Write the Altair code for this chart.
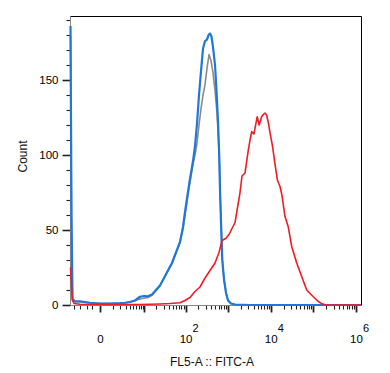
import altair as alt
import pandas as pd

# ---- data (FITC intensity, event count) ----
blue_x = [-3.91, -3.66, -3.41, -2.85, -1.94, -0.72, 0, 0.72, 1.94, 2.85,
          4.05, 5.61, 7.66, 9.75, 12.33, 15.55, 19.53, 24.5, 30.6, 38.2,
          47.7, 59.4, 74.0, 87.2, 97.2, 108.4, 120.9, 134.8, 150.3, 167.5,
          186.7, 208.1, 232.0, 258.6, 288.2, 320.8, 348, 377.7, 409.3, 444,
          494.7, 536.5, 582.5, 624.3, 649, 684.7, 734, 805.9, 897.8, 1000,
          1175, 1459, 3277, 48660, 1300000]
blue_y = [186, 60, 4, 2.5, 2.5, 1.5, 1, 1, 1.2, 1.5,
          2, 3, 5.5, 6, 5.8, 7, 10, 13, 18, 23,
          28, 35, 42, 52, 62, 71, 80, 88, 96, 106,
          121, 140, 156, 171, 176, 177, 180, 181, 179, 172,
          160, 143, 122, 98, 76, 55, 30, 17, 8, 3,
          1, 0.3, 0, 0, 0]

gray_x = [-3.91, -3.66, -3.41, -2.85, -1.94, -0.72, 0, 0.72, 1.94, 2.85,
          4.05, 7.66, 9.75, 12.33, 15.55, 19.53, 24.5, 30.6, 38.2, 47.7,
          59.4, 74.0, 87.2, 97.2, 108.4, 120.9, 134.8, 150.3, 167.5, 186.7,
          208.1, 232.0, 258.6, 288.2, 320.8, 357.7, 398.4, 444, 494.7, 551,
          598, 631.3, 659, 692.3, 734, 805.9, 897.8, 1000, 1175, 1459,
          3277, 48660, 1300000]
gray_y = [180, 55, 3, 2, 2, 1.3, 1, 1, 1, 1.3,
          2, 4, 4.5, 5, 6.5, 9.5, 13, 18, 23, 28,
          35, 42, 51, 60, 69, 78, 86, 94, 100, 108,
          120, 131, 140, 147, 158, 167, 163, 155, 143, 128,
          110, 92, 72, 52, 30, 17, 8, 3, 1, 0.3,
          0, 0, 0]

red_x = [-3.91, -3.66, -3.41, -3.07, -1.94, 0, 4.05, 7.66, 24.5, 42.7,
         74.0, 97.2, 127.6, 167.5, 219.7, 288.2, 377.7, 494.7, 614.4, 723.2,
         897.8, 1055, 1240, 1459, 1624, 1910, 2127, 2502, 2941, 3277,
         3593, 4043, 4504, 4831, 5382, 6123, 6750, 7360, 8070, 8892,
         9640, 11040, 12630, 14460, 16540, 18440, 21660, 25890, 31100, 40740,
         53360, 69920, 99810, 128700, 159700, 198200, 421300, 1300000]
red_y = [25, 12, 3, 1, 0.5, 0.3, 0.3, 0.3, 0.7, 1,
         1.5, 3, 5, 9, 12, 18, 23, 28, 35, 43,
         44.5, 47, 51, 55, 63, 75, 86, 88, 102, 110,
         115.6, 114, 121, 125.5, 120, 125.5, 127, 128, 126.5, 121,
         115, 106, 94, 83, 79, 73, 59, 52, 39, 28,
         19, 10, 5.5, 2.5, 0.8, 0, 0, 0]

series_order = ["gray", "blue", "red"]
series_colors = {"gray": "#8a8a8a", "blue": "#1f78d8", "red": "#ee1c25"}
series_widths = {"gray": 1.6, "blue": 2.2, "red": 1.6}

exp_values = [100, 10000, 1000000]
exp_labels = ["2", "4", "6"]

x_major = [0, 10, 100, 1000, 10000, 100000, 1000000]
x_minor = [-3, -2, -1, -0.5] + list(range(1, 10)) + [m * 10 ** k for k in range(1, 6) for m in range(2, 10)]
y_major = [0, 50, 100, 150]
y_minor = [v for v in range(0, 200, 10) if v % 50 != 0]

rows = []
for name, xs, ys in [("gray", gray_x, gray_y), ("blue", blue_x, blue_y), ("red", red_x, red_y)]:
    for i, (a, b) in enumerate(zip(xs, ys)):
        rows.append({"series": name, "fitc": a, "count": b, "i": i})
df = pd.DataFrame(rows)
sup_df = pd.DataFrame({"v": exp_values, "e": exp_labels})

FONT = "Liberation Sans"
TICK = "#222222"

x_scale = alt.Scale(type="symlog", constant=1, domain=[-4.05, 1309000], nice=False)
y_scale = alt.Scale(domain=[0, 192.7], nice=False)

x_axis = alt.Axis(
    orient="bottom", values=x_major, tickSize=7, tickColor=TICK, tickWidth=1.8,
    labelExpr="datum.value == 0 ? '0' : (datum.value == 100 || datum.value == 10000 || datum.value == 1000000) ? '10' : ''",
    labelOverlap=False, labelFlush=False, labelFont=FONT, labelPadding=21, grid=False,
    title="FL5-A :: FITC-A", titleX=141.5, titleY=51,
)
x_axis_minor = alt.Axis(
    orient="bottom", values=x_minor, tickSize=4, tickColor=TICK, tickWidth=1.1,
    labels=False, title=None, grid=False,
)
y_axis = alt.Axis(
    orient="left", values=y_major, tickSize=8, tickColor=TICK, tickWidth=1.6,
    labelPadding=4, grid=False, labelFont=FONT,
    title="Count", titleX=-41, titleY=140,
)
y_axis_minor = alt.Axis(
    orient="left", values=y_minor, tickSize=4, tickColor=TICK, tickWidth=1.1,
    labels=False, title=None, grid=False,
)

base = alt.Chart(df).encode(
    x=alt.X("fitc:Q", scale=x_scale, axis=x_axis),
    y=alt.Y("count:Q", scale=y_scale, axis=y_axis),
    order="i:Q",
)
layers = [
    base.transform_filter(alt.datum.series == s).mark_line(
        color=series_colors[s], strokeWidth=series_widths[s], strokeJoin="round")
    for s in series_order
]

sup = alt.Chart(sup_df).mark_text(
    align="left", baseline="top", dx=7, font=FONT, fontSize=11, color="black"
).encode(
    x=alt.X("v:Q", scale=x_scale, axis=x_axis),
    y=alt.value(307),
    text="e:N",
)

minor = alt.Chart(df).mark_point(opacity=0).encode(
    x=alt.X("fitc:Q", scale=x_scale, axis=x_axis_minor),
    y=alt.Y("count:Q", scale=y_scale, axis=y_axis_minor),
)

main = alt.layer(*layers, sup)
chart = alt.layer(main, minor).resolve_axis(x="independent", y="independent").properties(
    width=291, height=289,
    autosize=alt.AutoSizeParams(type="none"),
    padding={"left": 62, "top": 8, "right": 20, "bottom": 64},
).configure_view(stroke="black", strokeWidth=1).configure_axis(
    labelFontSize=11.5, labelColor="#000000",
    titleFont=FONT, titleFontSize=12, titleFontWeight="normal", titleColor="#111111",
)

chart.save("out.html", embed_options={"renderer": "svg", "actions": False})
